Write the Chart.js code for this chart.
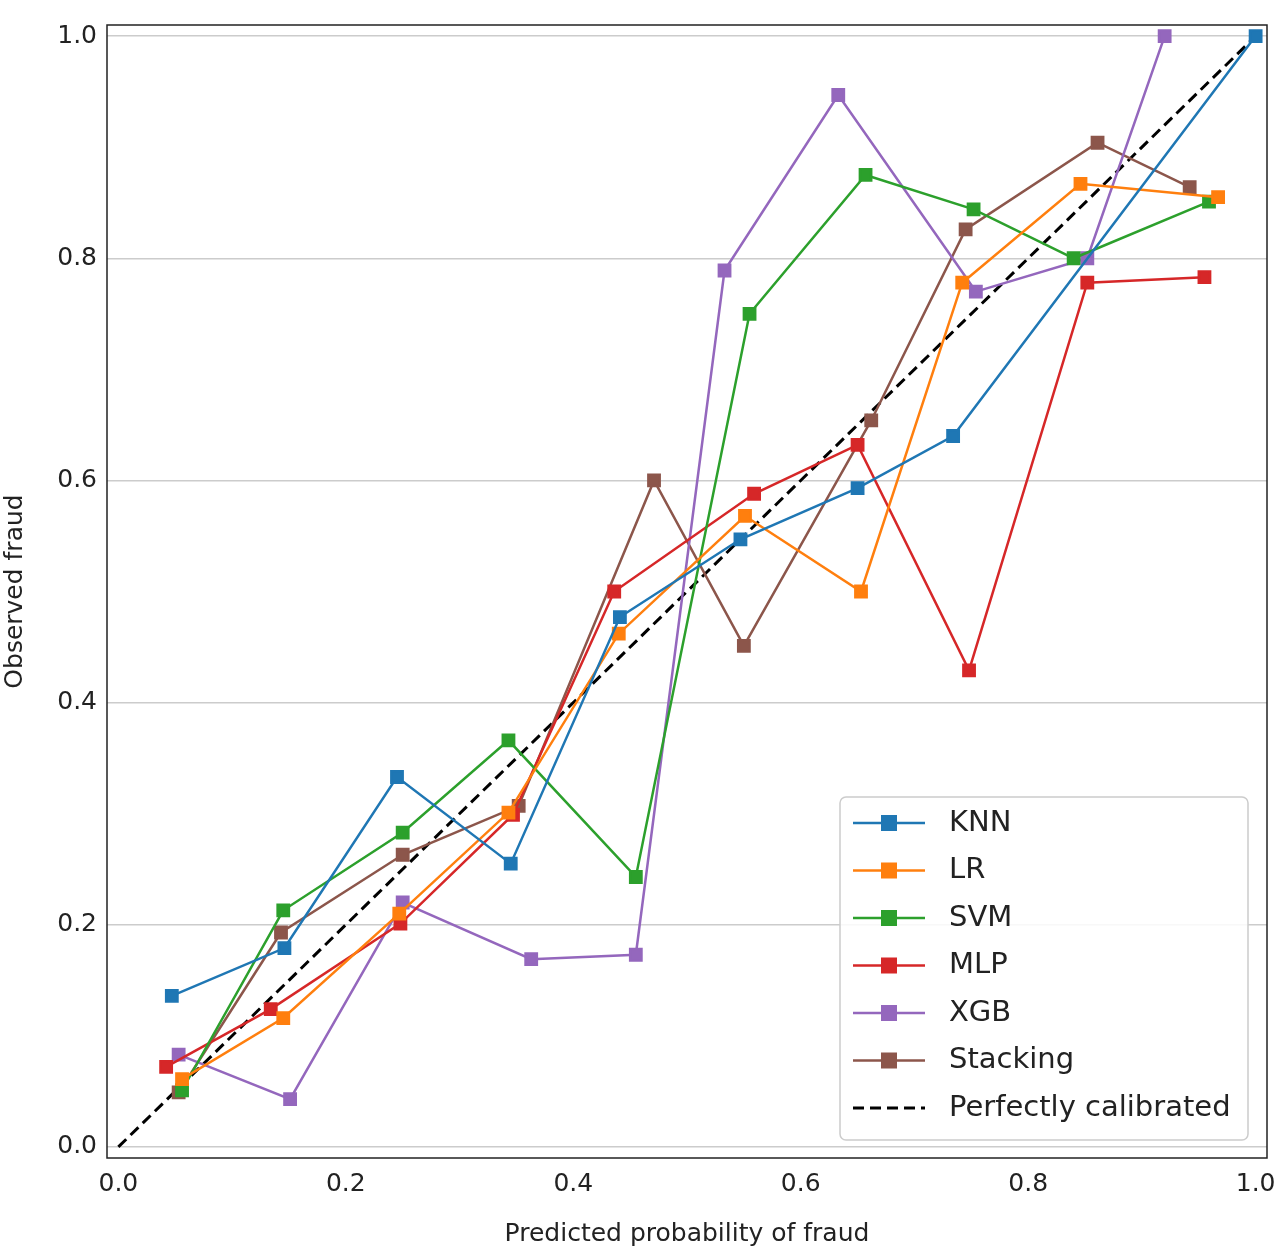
<!DOCTYPE html>
<html>
<head>
<meta charset="utf-8">
<script src="https://cdn.jsdelivr.net/npm/chart.js@4/dist/chart.umd.min.js"></script>
<style>
  body { margin: 0; background: #fff; }
  #wrap { width: 1280px; height: 1249px; }
</style>
</head>
<body>
<div id="wrap"><canvas id="calib"></canvas></div>
<script>
const seriesNames = ["KNN", "LR", "SVM", "MLP", "XGB", "Stacking"];
const seriesColors = ["#1f77b4", "#ff7f0e", "#2ca02c", "#d62728", "#9467bd", "#8c564b"];

const knnX = [0.047, 0.146, 0.245, 0.345, 0.441, 0.547, 0.650, 0.734, 1.0];
const knnY = [0.136, 0.179, 0.333, 0.255, 0.477, 0.547, 0.593, 0.640, 1.0];
const lrX = [0.056, 0.145, 0.247, 0.343, 0.440, 0.551, 0.653, 0.742, 0.846, 0.967];
const lrY = [0.061, 0.116, 0.210, 0.301, 0.462, 0.568, 0.500, 0.778, 0.867, 0.855];
const svmX = [0.056, 0.145, 0.250, 0.343, 0.455, 0.555, 0.657, 0.752, 0.840, 0.959];
const svmY = [0.051, 0.213, 0.283, 0.366, 0.243, 0.750, 0.875, 0.844, 0.800, 0.851];
const mlpX = [0.042, 0.134, 0.248, 0.347, 0.436, 0.559, 0.650, 0.748, 0.852, 0.955];
const mlpY = [0.072, 0.124, 0.201, 0.299, 0.500, 0.588, 0.632, 0.429, 0.778, 0.783];
const xgbX = [0.053, 0.151, 0.250, 0.363, 0.455, 0.533, 0.633, 0.754, 0.852, 0.920];
const xgbY = [0.083, 0.043, 0.220, 0.169, 0.173, 0.789, 0.947, 0.770, 0.800, 1.0];
const stackX = [0.053, 0.143, 0.250, 0.352, 0.471, 0.550, 0.662, 0.745, 0.861, 0.942];
const stackY = [0.049, 0.193, 0.263, 0.307, 0.600, 0.451, 0.654, 0.826, 0.904, 0.864];
const diagX = [0, 1];
const diagY = [0, 1];
const tickValues = [0, 0.2, 0.4, 0.6, 0.8, 1.0];

const xs = [knnX, lrX, svmX, mlpX, xgbX, stackX];
const ys = [knnY, lrY, svmY, mlpY, xgbY, stackY];

const datasets = seriesNames.map((name, i) => ({
  label: name,
  data: xs[i].map((x, j) => ({ x: x, y: ys[i][j] })),
  borderColor: seriesColors[i],
  backgroundColor: seriesColors[i],
  borderWidth: 2.5,
  pointStyle: "rect",
  pointRadius: 8,
  showLine: true
}));
datasets.push({
  label: "Perfectly calibrated",
  data: diagX.map((x, j) => ({ x: x, y: diagY[j] })),
  borderColor: "#000",
  borderWidth: 3,
  borderDash: [11, 6],
  pointRadius: 0,
  showLine: true
});

const font = { family: "DejaVu Sans", size: 25 };

const legendBox = {
  id: "legendBox",
  afterDraw(chart) {
    const ctx = chart.ctx;
    const x0 = 840, y0 = 797, w = 408, h = 343;
    ctx.save();
    ctx.fillStyle = "rgba(255,255,255,0.85)";
    ctx.strokeStyle = "#ccc";
    ctx.lineWidth = 1.5;
    ctx.beginPath();
    ctx.roundRect(x0, y0, w, h, 6);
    ctx.fill();
    ctx.stroke();
    ctx.font = "29px DejaVu Sans";
    ctx.textBaseline = "middle";
    chart.data.datasets.forEach((ds, i) => {
      const cy = y0 + 26 + i * 47.5;
      ctx.strokeStyle = ds.borderColor;
      ctx.lineWidth = ds.borderWidth;
      ctx.setLineDash(ds.borderDash || []);
      ctx.beginPath();
      ctx.moveTo(853, cy);
      ctx.lineTo(925, cy);
      ctx.stroke();
      ctx.setLineDash([]);
      if (ds.pointRadius) {
        ctx.fillStyle = ds.backgroundColor;
        ctx.fillRect(881, cy - 8, 16, 16);
      }
      ctx.fillStyle = "#222";
      ctx.fillText(ds.label, 949, cy);
    });
    ctx.restore();
  }
};

const frame = {
  id: "frame",
  afterDatasetsDraw(chart) {
    const a = chart.chartArea, ctx = chart.ctx;
    ctx.save();
    ctx.strokeStyle = "#222";
    ctx.lineWidth = 1.5;
    ctx.strokeRect(a.left, a.top, a.right - a.left, a.bottom - a.top);
    ctx.restore();
  }
};

new Chart("calib", {
  type: "scatter",
  data: { datasets: datasets },
  options: {
    responsive: true,
    maintainAspectRatio: false,
    animation: false,
    layout: { padding: { top: 6, right: 13, left: 0, bottom: 0 } },
    plugins: { legend: { display: false }, tooltip: { enabled: false } },
    scales: {
      x: {
        type: "linear", min: -0.01, max: 1.01,
        afterBuildTicks: s => { s.ticks = tickValues.map(v => ({ value: v })); },
        afterFit: s => { s.height = 91; },
        grid: { display: false },
        border: { display: false },
        ticks: { font: font, color: "#222", callback: v => v.toFixed(1) },
        title: { display: true, text: "Predicted probability of fraud", font: font, color: "#222", padding: 0 }
      },
      y: {
        type: "linear", min: -0.01, max: 1.01,
        afterBuildTicks: s => { s.ticks = tickValues.map(v => ({ value: v })); },
        afterFit: s => { s.width = 107; },
        grid: { color: "#ccc", lineWidth: 1.5, drawTicks: false },
        border: { display: false },
        ticks: { font: font, color: "#222", padding: 10, callback: v => v.toFixed(1) },
        title: { display: true, text: "Observed fraud", font: font, color: "#222", padding: 0 }
      }
    }
  },
  plugins: [legendBox, frame]
});
</script>
</body>
</html>
